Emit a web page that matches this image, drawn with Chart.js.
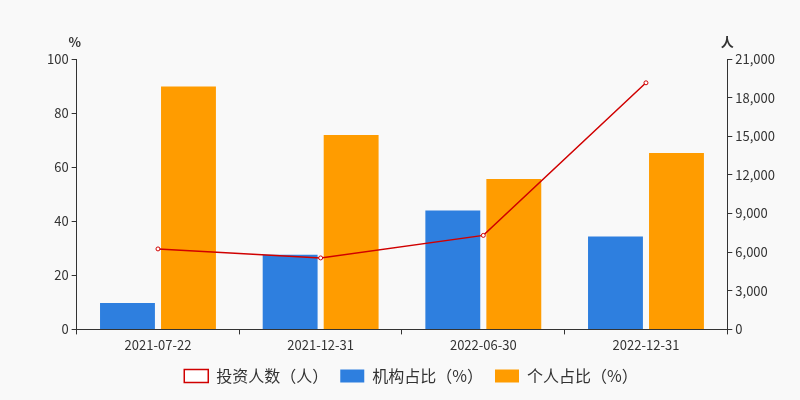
<!DOCTYPE html>
<html><head><meta charset="utf-8">
<script src="https://cdn.jsdelivr.net/npm/chart.js@4"></script>
<style>body{margin:0;background:#f9f9f9}#wrap{width:800px;height:400px}</style>
</head><body><div id="wrap"><canvas id="c"></canvas></div>
<script>
var categories = ['2021-07-22', '2021-12-31', '2022-06-30', '2022-12-31'];
var investors = [6250, 5550, 7300, 19150];
var instPct = [9.8, 27.6, 44, 34.4];
var personPct = [89.8, 71.9, 55.6, 65.2];

Chart.defaults.font = {family: 'Noto Sans CJK SC', size: 13};
Chart.defaults.color = '#333';

var axisTitles = {
    id: 'axisTitles',
    afterDraw: function(chart) {
        var c = chart.ctx, y = chart.scales.y, y1 = chart.scales.y1;
        c.save();
        c.fillStyle = '#333';
        c.font = 'bold 13px Noto Sans CJK SC';
        c.textAlign = 'center';
        c.fillText('%', y.right - 2, 42);
        c.fillText('人', y1.left, 42);
        c.restore();
    }
};

new Chart(document.getElementById('c'), {
    data: {
        labels: categories,
        datasets: [
            {
                type: 'line', label: '投资人数（人）', data: investors, yAxisID: 'y1',
                borderColor: '#d00000', borderWidth: 1.5, backgroundColor: '#fff',
                pointRadius: 2, pointBorderWidth: 1, tension: 0, order: 0
            },
            {
                type: 'bar', label: '机构占比（%）', data: instPct, yAxisID: 'y',
                backgroundColor: '#2e7fdf', barPercentage: 0.9, categoryPercentage: 0.75, order: 1
            },
            {
                type: 'bar', label: '个人占比（%）', data: personPct, yAxisID: 'y',
                backgroundColor: '#ff9c00', barPercentage: 0.9, categoryPercentage: 0.75, order: 1
            }
        ]
    },
    options: {
        responsive: true,
        maintainAspectRatio: false,
        animation: false,
        layout: {padding: {left: 44, right: 22, top: 59, bottom: 6}},
        plugins: {
            legend: {
                position: 'bottom',
                labels: {boxWidth: 24, boxHeight: 13, padding: 12, font: {family: 'Noto Sans CJK SC', size: 16}, color: '#333',
                    generateLabels: function(chart) {
                        var items = Chart.defaults.plugins.legend.labels.generateLabels(chart);
                        items[0].pointStyle = 'circle';
                        return items;
                    }
                }
            },
            tooltip: {enabled: false}
        },
        scales: {
            x: {
                offset: true,
                grid: {display: true, drawOnChartArea: false, offset: true, tickLength: 5, color: '#333'},
                border: {color: '#333'},
                ticks: {color: '#333'}
            },
            y: {
                position: 'left', min: 0, max: 100,
                ticks: {stepSize: 20, color: '#333'},
                grid: {drawOnChartArea: false, tickLength: 5, color: '#333'},
                border: {color: '#333'}
            },
            y1: {
                position: 'right', min: 0, max: 21000,
                ticks: {stepSize: 3000, color: '#333', callback: function(v) { return v.toLocaleString('en-US'); }},
                grid: {drawOnChartArea: false, tickLength: 5, color: '#333'},
                border: {color: '#333'}
            }
        }
    },
    plugins: [axisTitles]
});
</script></body></html>
